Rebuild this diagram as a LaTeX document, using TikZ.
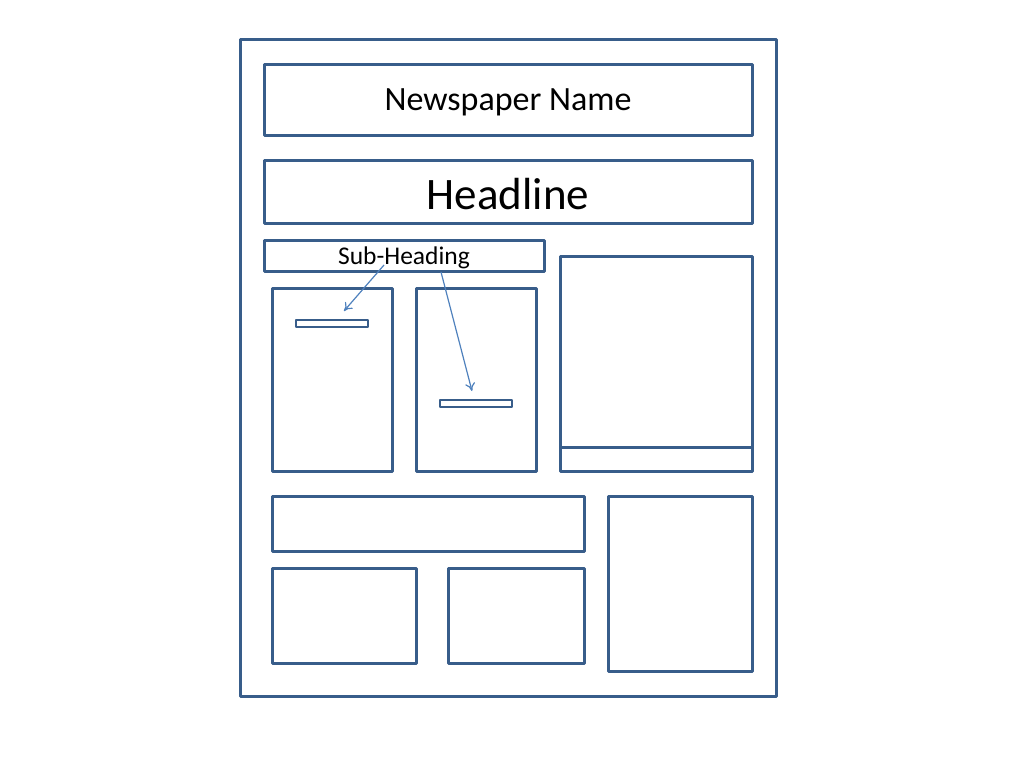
\documentclass[tikz,border=0pt]{standalone}
\usepackage{fontspec}
\setmainfont{Carlito}
\usetikzlibrary{arrows.meta}
\definecolor{boxblue}{HTML}{385D8A}
\definecolor{arrowblue}{HTML}{4F81BD}
\begin{document}
\begin{tikzpicture}[x=1pt,y=-1pt,
  frame/.style={draw=boxblue,line width=3pt,line join=round},
  thinbox/.style={draw=boxblue,line width=2.8pt,line join=round},
  pointer/.style={draw=arrowblue,line width=1.2pt,-{To[length=8pt,width=10pt]}}]
\useasboundingbox (0,0) rectangle (1024,768);
% outer page
\draw[frame] (240,40) rectangle (776,696);
% masthead
\draw[frame] (264,64) rectangle (752,135);
\node[font=\fontsize{34}{38}\selectfont] (name) at (508,102) {Newspaper Name};
% headline
\draw[frame] (264,160) rectangle (752,223);
\node[font=\fontsize{45}{50}\selectfont] (headline) at (508,194) {Headline};
% sub-heading
\draw[frame] (264,240) rectangle (544,271);
\node[font=\fontsize{25.5}{28}\selectfont] (sub) at (404,258) {Sub-Heading};
% columns
\draw[frame] (272,288) rectangle (392,471);
\draw[thinbox] (296,320) rectangle (368,327);
\coordinate (bar1) at (344,311);
\draw[frame] (416,288) rectangle (536,471);
\draw[thinbox] (440,400) rectangle (512,407);
\coordinate (bar2) at (472,391);
% photo
\draw[frame] (560,256) rectangle (752,471);
\draw[frame] (560,447) -- (752,447);
% lower row
\draw[frame] (272,496) rectangle (584,551);
\draw[frame] (272,568) rectangle (416,663);
\draw[frame] (448,568) rectangle (584,663);
\draw[frame] (608,496) rectangle (752,671);
% pointers
\coordinate (s1) at (384,265);
\coordinate (s2) at (441,272);
\draw[pointer] (s1) -- (bar1);
\draw[pointer] (s2) -- (bar2);
\end{tikzpicture}
\end{document}
